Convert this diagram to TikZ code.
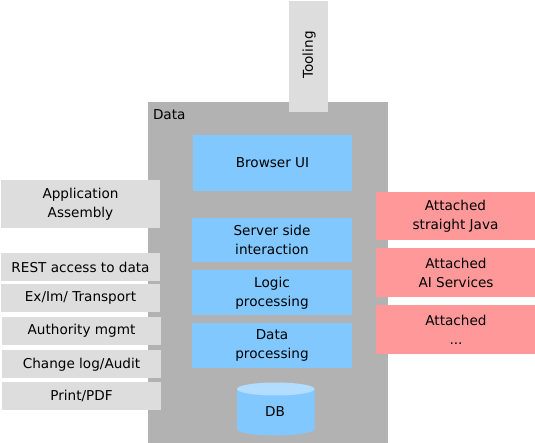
\documentclass[tikz,border=0pt]{standalone}
\usepackage{fontspec}
\setmainfont{DejaVu Sans}
\definecolor{boxblue}{HTML}{80C8FF}
\definecolor{dbtop}{HTML}{B3DDFF}
\definecolor{datagrey}{HTML}{B2B2B2}
\definecolor{toolgrey}{HTML}{DDDDDD}
\definecolor{attachred}{HTML}{FF9999}
\tikzset{
  x=1pt,y=-1pt,
  base/.style={inner sep=0pt,outer sep=0pt,align=center,text=black,font=\fontsize{13.6}{19}\selectfont},
  wide/.style={base,minimum width=159.5pt},
  bluebox/.style={wide,fill=boxblue},
  greybox/.style={wide,fill=toolgrey},
  redbox/.style={wide,fill=attachred},
}
\begin{document}
\begin{tikzpicture}
\useasboundingbox (0,0) rectangle (535,443);
\node[base,fill=datagrey,minimum width=240pt,minimum height=341pt] (data) at (268,272.5) {};
\node[base,anchor=west] (datalabel) at (153,115) {Data};
\node[base,fill=toolgrey,minimum width=39pt,minimum height=111pt] (tooling) at (308.5,56.5) {};
\node[base,rotate=90] (toolinglabel) at (309,55) {Tooling};
\node[bluebox,minimum height=56pt] (browser) at (272.5,163) {Browser UI};
\node[bluebox,minimum height=44.5pt] (server) at (272,240) {Server side\\interaction};
\node[bluebox,minimum height=44.5pt] (logic) at (272,292.75) {Logic\\processing};
\node[bluebox,minimum height=45pt] (dataproc) at (272,345.5) {Data\\processing};
\fill[boxblue] (237,389) -- (237,429) arc[x radius=38.75,y radius=6.5,start angle=180,end angle=0] -- (314.5,389) -- cycle;
\fill[dbtop] (275.75,389) ellipse[x radius=38.75,y radius=6.5];
\node[base] (db) at (275,411.5) {DB};
\node[greybox,minimum height=48pt] (assembly) at (80.5,204) {Application\\Assembly};
\node[greybox,minimum height=28pt] (rest) at (80.5,267) {REST access to data};
\node[greybox,minimum height=28pt] (transport) at (80.5,298.25) {Ex/Im/ Transport};
\node[greybox,minimum height=28pt] (authority) at (81.5,331) {Authority mgmt};
\node[greybox,minimum height=28pt] (changelog) at (81.5,364.25) {Change log/Audit};
\node[greybox,minimum height=28pt] (print) at (81.5,396) {Print/PDF};
\node[redbox,minimum height=48pt] (java) at (455.5,216) {Attached\\straight Java};
\node[redbox,minimum height=48.5pt] (ai) at (456,272.75) {Attached\\AI Services};
\node[redbox,minimum height=48.5pt] (more) at (456,329.75) {Attached\\...};
\end{tikzpicture}
\end{document}
